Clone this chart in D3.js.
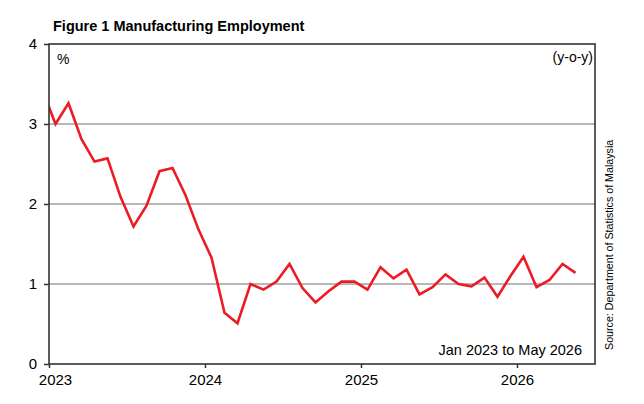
<!DOCTYPE html>
<html lang="en">
<head>
    <meta charset="UTF-8" />
    <title>Figure 1 Manufacturing Employment</title>
    <script src="https://d3js.org/d3.v7.min.js"></script>
    <style>
        body {
            margin: 0;
            background: #fff;
            font-family: "Liberation Sans", Arial, sans-serif;
        }
        svg text {
            fill: #000;
        }
    </style>
</head>
<body>
    <script>
        // months (index 0 = Jan 2023), -1 is Dec 2022 which runs off the axis
        const months = d3.range(-1, 41);
        const values = [
            3.42,
            3.00, 3.26, 2.81, 2.53, 2.57, 2.09, 1.72, 1.98, 2.41, 2.45, 2.11, 1.68,
            1.33, 0.64, 0.51, 1.00, 0.93, 1.03, 1.25, 0.95, 0.77, 0.91, 1.03, 1.03,
            0.93, 1.21, 1.07, 1.18, 0.87, 0.96, 1.12, 1.00, 0.97, 1.08, 0.84, 1.10,
            1.34, 0.96, 1.05, 1.25, 1.14
        ];
        const years = [2023, 2024, 2025, 2026];
        const yTicks = [0, 1, 2, 3, 4];

        const width = 644, height = 404;
        const margin = { top: 44, right: 49, bottom: 40, left: 49 };

        const svg = d3.select('body').append('svg')
            .attr('width', width)
            .attr('height', height);

        // x in months since Jan 2023, points sit mid-month
        const x = d3.scaleLinear()
            .domain([0, 42])
            .range([margin.left, width - margin.right]);
        const y = d3.scaleLinear()
            .domain([0, 4])
            .range([height - margin.bottom, margin.top]);

        // grid lines
        svg.append('g')
            .selectAll('line')
            .data(yTicks.filter(d => d > 0 && d < 4))
            .enter().append('line')
            .attr('x1', x(0)).attr('x2', x(42))
            .attr('y1', d => y(d)).attr('y2', d => y(d))
            .attr('stroke', '#a0a0a0')
            .attr('stroke-width', 1.5);

        svg.append('defs').append('clipPath').attr('id', 'plot')
            .append('rect')
            .attr('x', x(0)).attr('y', y(4))
            .attr('width', x(42) - x(0)).attr('height', y(0) - y(4));

        const line = d3.line()
            .x((d, i) => x(months[i] + 0.5))
            .y(d => y(d));

        svg.append('path')
            .datum(values)
            .attr('clip-path', 'url(#plot)')
            .attr('fill', 'none')
            .attr('stroke', '#ec1c24')
            .attr('stroke-width', 2.6)
            .attr('stroke-linejoin', 'miter')
            .attr('d', line);

        // frame
        svg.append('rect')
            .attr('x', x(0)).attr('y', y(4))
            .attr('width', x(42) - x(0)).attr('height', y(0) - y(4))
            .attr('fill', 'none')
            .attr('stroke', '#333')
            .attr('stroke-width', 1.6);

        // axes
        const yAxis = d3.axisLeft(y).tickValues(yTicks).tickSize(5).tickPadding(7).tickFormat(d3.format('d'));
        const gy = svg.append('g').attr('transform', `translate(${x(0)},0)`).call(yAxis);
        gy.select('.domain').remove();
        gy.selectAll('line').attr('stroke', '#333').attr('stroke-width', 1.5);
        gy.selectAll('text').style('font-size', '15px').style('font-family', '"Liberation Sans", Arial, sans-serif');

        const xAxis = d3.axisBottom(x)
            .tickValues(years.map(d => (d - 2023) * 12))
            .tickFormat((d, i) => years[i])
            .tickSize(4).tickPadding(6);
        const gx = svg.append('g').attr('transform', `translate(0,${y(0)})`).call(xAxis);
        gx.select('.domain').remove();
        gx.selectAll('line').attr('stroke', '#333').attr('stroke-width', 1.5);
        gx.selectAll('text')
            .style('font-size', '15px')
            .style('font-family', '"Liberation Sans", Arial, sans-serif')
            .attr('dx', (d, i) => i === 0 ? 6 : 0);

        // labels
        svg.append('text')
            .attr('x', 53).attr('y', 31)
            .style('font-size', '14.5px').style('font-weight', 'bold')
            .text('Figure 1 Manufacturing Employment');

        svg.append('text')
            .attr('x', 57).attr('y', 64)
            .style('font-size', '14px')
            .text('%');

        svg.append('text')
            .attr('x', 593).attr('y', 62)
            .attr('text-anchor', 'end')
            .style('font-size', '14px')
            .text('(y-o-y)');

        svg.append('text')
            .attr('x', 582).attr('y', 355)
            .attr('text-anchor', 'end')
            .style('font-size', '14.5px')
            .text('Jan 2023 to May 2026');

        svg.append('text')
            .attr('transform', 'translate(613,350) rotate(-90)')
            .style('font-size', '10.7px')
            .text('Source: Department of Statistics of Malaysia');
    </script>
</body>
</html>
